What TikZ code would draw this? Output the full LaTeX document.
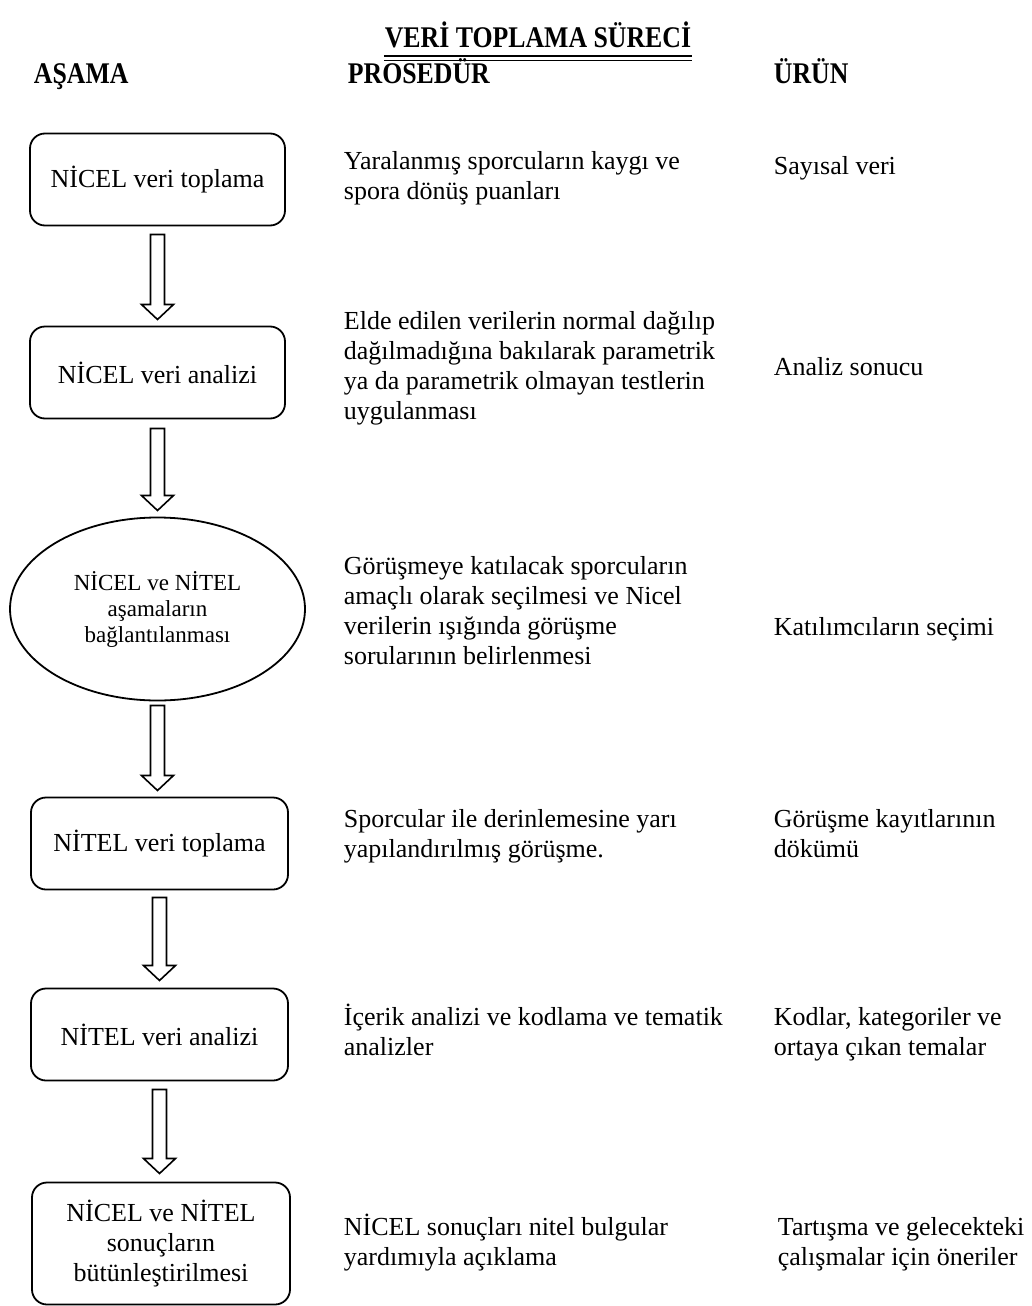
\documentclass[tikz,border=0pt]{standalone}
\usepackage{fontspec}
\setmainfont{Liberation Serif}
\newfontfamily\headfont[FakeStretch=0.86]{Liberation Serif}
\usetikzlibrary{positioning, calc, shapes.geometric}

\newcommand{\tp}{\rule{0pt}{24pt}}

\begin{document}
\begin{tikzpicture}[x=1pt, y=-1pt, line width=1.8pt, font=\fontsize{26}{30}\selectfont]
        % Define block styles
        \tikzstyle{stage} = [rectangle, draw, rounded corners=15pt, minimum width=255pt, minimum height=92pt, inner sep=0pt, outer sep=0pt, align=center]
        \tikzstyle{link} = [ellipse, draw, minimum width=295pt, minimum height=183pt, inner sep=0pt, outer sep=0pt, align=center, font=\fontsize{23}{26}\selectfont]
        \tikzstyle{info} = [anchor=north west, inner sep=0pt, align=left]
        \tikzstyle{head} = [anchor=base west, inner sep=0pt, font=\headfont\fontsize{30}{34}\selectfont\bfseries]
        \tikzstyle{hollow} = [draw, line width=1.6pt, to path={let \p1=(\tikztostart), \p2=(\tikztotarget) in (\x1-7pt,\y1) -- (\x1+7pt,\y1) -- (\x1+7pt,\y2+15pt) -- (\x1+16pt,\y2+15pt) -- (\x1,\y2) -- (\x1-16pt,\y2+15pt) -- (\x1-7pt,\y2+15pt) -- cycle}]

        \useasboundingbox (0,0) rectangle (1031,1306);

        % Title and column heads
        \node[head, anchor=base] (title) at (538,48) {VERİ TOPLAMA SÜRECİ};
        \draw[line width=2.2pt] ([yshift=-8pt]title.base west) -- ([yshift=-8pt]title.base east);
        \draw[line width=0.9pt] ([yshift=-12pt]title.base west) -- ([yshift=-12pt]title.base east);
        \node[head] (hstage) at (33,84) {AŞAMA};
        \node[head] (hproc) at (347,84) {PROSEDÜR};
        \node[head] (hprod) at (773,84) {ÜRÜN};

        % Place stage nodes
        \node[stage] (b1) at (157.5,179.5) {NİCEL veri toplama};
        \node[stage, below=101pt of b1] (b2) {NİCEL veri analizi};
        \node[link, below=99pt of b2] (bl) {NİCEL ve NİTEL\\aşamaların\\bağlantılanması};
        \node[stage, below=97pt of bl, xshift=2pt, minimum width=257pt] (b4) {NİTEL veri toplama};
        \node[stage, below=99pt of b4, minimum width=257pt] (b5) {NİTEL veri analizi};
        \node[stage, below=102pt of b5, xshift=1.5pt, minimum width=258pt, minimum height=122pt] (b6) {NİCEL ve NİTEL\\sonuçların\\bütünleştirilmesi};

        % Procedure and product texts
        \node[info] (p1) at (343,145) {\tp Yaralanmış sporcuların kaygı ve\\spora dönüş puanları};
        \node[info] (u1) at (773,150) {\tp Sayısal veri};
        \node[info] (p2) at (343,305) {\tp Elde edilen verilerin normal dağılıp\\dağılmadığına bakılarak parametrik\\ya da parametrik olmayan testlerin\\uygulanması};
        \node[info] (u2) at (773,351) {\tp Analiz sonucu};
        \node[info] (p3) at (343,550) {\tp Görüşmeye katılacak sporcuların\\amaçlı olarak seçilmesi ve Nicel\\verilerin ışığında görüşme\\sorularının belirlenmesi};
        \node[info] (u3) at (773,611) {\tp Katılımcıların seçimi};
        \node[info] (p4) at (343,803) {\tp Sporcular ile derinlemesine yarı\\yapılandırılmış görüşme.};
        \node[info] (u4) at (773,803) {\tp Görüşme kayıtlarının\\dökümü};
        \node[info] (p5) at (343,1001) {\tp İçerik analizi ve kodlama ve tematik\\analizler};
        \node[info] (u5) at (773,1001) {\tp Kodlar, kategoriler ve\\ortaya çıkan temalar};
        \node[info] (p6) at (343,1211) {\tp NİCEL sonuçları nitel bulgular\\yardımıyla açıklama};
        \node[info] (u6) at (777,1211) {\tp Tartışma ve gelecekteki\\çalışmalar için öneriler};

        % Draw hollow arrows between stages
        \draw[hollow] ([yshift=-9pt]b1.south) to ([yshift=7pt]b2.north);
        \draw[hollow] ([yshift=-10pt]b2.south) to ([yshift=7pt]bl.north);
        \draw[hollow] ([yshift=-5pt]bl.south) to ([yshift=7pt]b4.north);
        \draw[hollow] ([yshift=-8pt]b4.south) to ([yshift=8pt]b5.north);
        \draw[hollow] ([yshift=-9pt]b5.south) to ([yshift=9pt]b6.north);

    \end{tikzpicture}
\end{document}
